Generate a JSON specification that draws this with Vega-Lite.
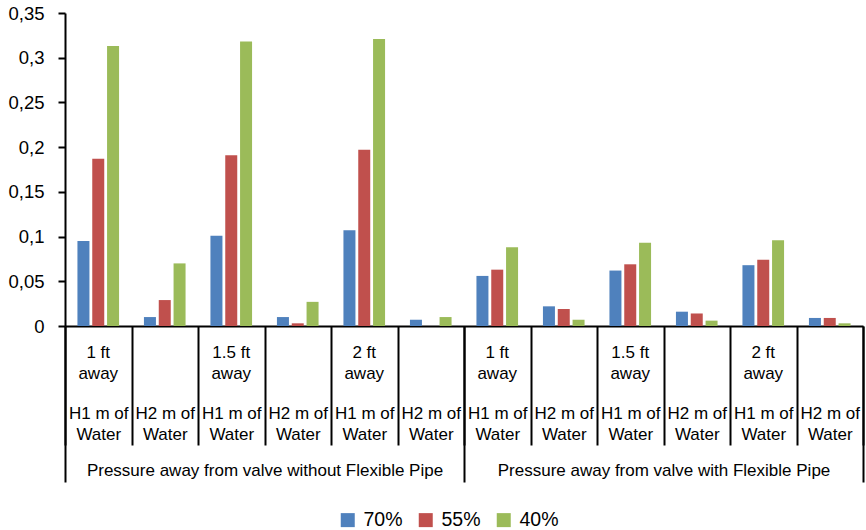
{
  "$schema": "https://vega.github.io/schema/vega-lite/v6.json",
  "width": 798,
  "height": 313,
  "autosize": "none",
  "padding": {"left": 65, "top": 13, "right": 3, "bottom": 204},
  "config": {
    "locale": {"number": {"decimal": ",", "thousands": ".", "grouping": [3], "currency": ["", ""]}},
    "view": {"stroke": null},
    "font": "Liberation Sans"
  },
  "data": {
    "values": [
      {"group": "Pressure away from valve without Flexible Pipe", "cat": "01|1 ft|away|H1 m of|Water", "series": "70%", "value": 0.095},
      {"group": "Pressure away from valve without Flexible Pipe", "cat": "01|1 ft|away|H1 m of|Water", "series": "55%", "value": 0.187},
      {"group": "Pressure away from valve without Flexible Pipe", "cat": "01|1 ft|away|H1 m of|Water", "series": "40%", "value": 0.313},
      {"group": "Pressure away from valve without Flexible Pipe", "cat": "02|||H2 m of|Water", "series": "70%", "value": 0.010},
      {"group": "Pressure away from valve without Flexible Pipe", "cat": "02|||H2 m of|Water", "series": "55%", "value": 0.029},
      {"group": "Pressure away from valve without Flexible Pipe", "cat": "02|||H2 m of|Water", "series": "40%", "value": 0.070},
      {"group": "Pressure away from valve without Flexible Pipe", "cat": "03|1.5 ft|away|H1 m of|Water", "series": "70%", "value": 0.101},
      {"group": "Pressure away from valve without Flexible Pipe", "cat": "03|1.5 ft|away|H1 m of|Water", "series": "55%", "value": 0.191},
      {"group": "Pressure away from valve without Flexible Pipe", "cat": "03|1.5 ft|away|H1 m of|Water", "series": "40%", "value": 0.318},
      {"group": "Pressure away from valve without Flexible Pipe", "cat": "04|||H2 m of|Water", "series": "70%", "value": 0.010},
      {"group": "Pressure away from valve without Flexible Pipe", "cat": "04|||H2 m of|Water", "series": "55%", "value": 0.003},
      {"group": "Pressure away from valve without Flexible Pipe", "cat": "04|||H2 m of|Water", "series": "40%", "value": 0.027},
      {"group": "Pressure away from valve without Flexible Pipe", "cat": "05|2 ft|away|H1 m of|Water", "series": "70%", "value": 0.107},
      {"group": "Pressure away from valve without Flexible Pipe", "cat": "05|2 ft|away|H1 m of|Water", "series": "55%", "value": 0.197},
      {"group": "Pressure away from valve without Flexible Pipe", "cat": "05|2 ft|away|H1 m of|Water", "series": "40%", "value": 0.321},
      {"group": "Pressure away from valve without Flexible Pipe", "cat": "06|||H2 m of|Water", "series": "70%", "value": 0.007},
      {"group": "Pressure away from valve without Flexible Pipe", "cat": "06|||H2 m of|Water", "series": "55%", "value": 0.0},
      {"group": "Pressure away from valve without Flexible Pipe", "cat": "06|||H2 m of|Water", "series": "40%", "value": 0.010},
      {"group": "Pressure away from valve with Flexible Pipe", "cat": "07|1 ft|away|H1 m of|Water", "series": "70%", "value": 0.056},
      {"group": "Pressure away from valve with Flexible Pipe", "cat": "07|1 ft|away|H1 m of|Water", "series": "55%", "value": 0.063},
      {"group": "Pressure away from valve with Flexible Pipe", "cat": "07|1 ft|away|H1 m of|Water", "series": "40%", "value": 0.088},
      {"group": "Pressure away from valve with Flexible Pipe", "cat": "08|||H2 m of|Water", "series": "70%", "value": 0.022},
      {"group": "Pressure away from valve with Flexible Pipe", "cat": "08|||H2 m of|Water", "series": "55%", "value": 0.019},
      {"group": "Pressure away from valve with Flexible Pipe", "cat": "08|||H2 m of|Water", "series": "40%", "value": 0.007},
      {"group": "Pressure away from valve with Flexible Pipe", "cat": "09|1.5 ft|away|H1 m of|Water", "series": "70%", "value": 0.062},
      {"group": "Pressure away from valve with Flexible Pipe", "cat": "09|1.5 ft|away|H1 m of|Water", "series": "55%", "value": 0.069},
      {"group": "Pressure away from valve with Flexible Pipe", "cat": "09|1.5 ft|away|H1 m of|Water", "series": "40%", "value": 0.093},
      {"group": "Pressure away from valve with Flexible Pipe", "cat": "10|||H2 m of|Water", "series": "70%", "value": 0.016},
      {"group": "Pressure away from valve with Flexible Pipe", "cat": "10|||H2 m of|Water", "series": "55%", "value": 0.014},
      {"group": "Pressure away from valve with Flexible Pipe", "cat": "10|||H2 m of|Water", "series": "40%", "value": 0.006},
      {"group": "Pressure away from valve with Flexible Pipe", "cat": "11|2 ft|away|H1 m of|Water", "series": "70%", "value": 0.068},
      {"group": "Pressure away from valve with Flexible Pipe", "cat": "11|2 ft|away|H1 m of|Water", "series": "55%", "value": 0.074},
      {"group": "Pressure away from valve with Flexible Pipe", "cat": "11|2 ft|away|H1 m of|Water", "series": "40%", "value": 0.096},
      {"group": "Pressure away from valve with Flexible Pipe", "cat": "12|||H2 m of|Water", "series": "70%", "value": 0.009},
      {"group": "Pressure away from valve with Flexible Pipe", "cat": "12|||H2 m of|Water", "series": "55%", "value": 0.009},
      {"group": "Pressure away from valve with Flexible Pipe", "cat": "12|||H2 m of|Water", "series": "40%", "value": 0.003}
    ]
  },
  "layer": [
    {
      "mark": {"type": "bar"},
      "encoding": {
        "x": {
          "field": "cat", "type": "nominal", "sort": "ascending",
          "scale": {"paddingInner": 0, "paddingOuter": 0},
          "axis": {
            "title": null, "orient": "bottom",
            "tickBand": "extent", "tickSize": 119, "tickWidth": 2, "tickColor": "black",
            "domainColor": "black", "domainWidth": 2,
            "labelExpr": "slice(split(datum.label, '|'), 3)",
            "labelAngle": 0, "labelFontSize": 17, "labelLineHeight": 21,
            "labelPadding": -40, "labelColor": "black", "labelLimit": 0,
            "labelOverlap": false, "labelBaseline": "top"
          }
        },
        "xOffset": {
          "field": "series", "type": "nominal", "sort": ["70%", "55%", "40%"],
          "scale": {"paddingInner": 0.19, "paddingOuter": 0.84}
        },
        "y": {
          "field": "value", "type": "quantitative",
          "scale": {"domain": [0, 0.35], "nice": false},
          "axis": {
            "title": null, "grid": false,
            "values": [0, 0.05, 0.1, 0.15, 0.2, 0.25, 0.3, 0.35],
            "format": "~g",
            "domainColor": "black", "domainWidth": 2,
            "tickColor": "black", "tickWidth": 2, "tickSize": 7,
            "labelPadding": 14, "labelFontSize": 18.5, "labelColor": "black"
          }
        },
        "color": {
          "field": "series", "type": "nominal", "sort": ["70%", "55%", "40%"],
          "scale": {"range": ["#4F81BD", "#C0504D", "#9BBB59"]},
          "legend": {
            "title": null, "orient": "none", "direction": "horizontal",
            "legendX": 273, "legendY": 497,
            "symbolType": "square", "symbolSize": 196, "symbolStrokeWidth": 0,
            "labelFontSize": 19.5, "labelColor": "black", "labelOffset": 6,
            "columnPadding": 13
          }
        }
      }
    },
    {
      "mark": {"type": "bar", "opacity": 0},
      "encoding": {
        "x": {
          "field": "cat", "type": "nominal", "sort": "ascending",
          "scale": {"paddingInner": 0, "paddingOuter": 0},
          "axis": {
            "title": null, "orient": "bottom", "domain": false, "ticks": false, "tickSize": 0,
            "values": ["01|1 ft|away|H1 m of|Water", "03|1.5 ft|away|H1 m of|Water", "05|2 ft|away|H1 m of|Water", "07|1 ft|away|H1 m of|Water", "09|1.5 ft|away|H1 m of|Water", "11|2 ft|away|H1 m of|Water"],
            "labelExpr": "slice(split(datum.label, '|'), 1, 3)",
            "labelAngle": 0, "labelFontSize": 17, "labelLineHeight": 21,
            "labelPadding": 18, "labelColor": "black", "labelLimit": 0,
            "labelOverlap": false, "labelBaseline": "top"
          }
        }
      }
    },
    {
      "mark": {"type": "bar", "opacity": 0},
      "encoding": {
        "x": {
          "field": "group", "type": "nominal",
          "sort": ["Pressure away from valve without Flexible Pipe", "Pressure away from valve with Flexible Pipe"],
          "scale": {"paddingInner": 0, "paddingOuter": 0},
          "axis": {
            "title": null, "orient": "bottom", "domain": false,
            "tickBand": "extent", "tickSize": 156, "tickWidth": 2, "tickColor": "black",
            "labelAngle": 0, "labelFontSize": 17, "labelPadding": -20,
            "labelColor": "black", "labelLimit": 0, "labelBaseline": "top"
          }
        }
      }
    }
  ],
  "resolve": {"scale": {"x": "independent"}}
}
